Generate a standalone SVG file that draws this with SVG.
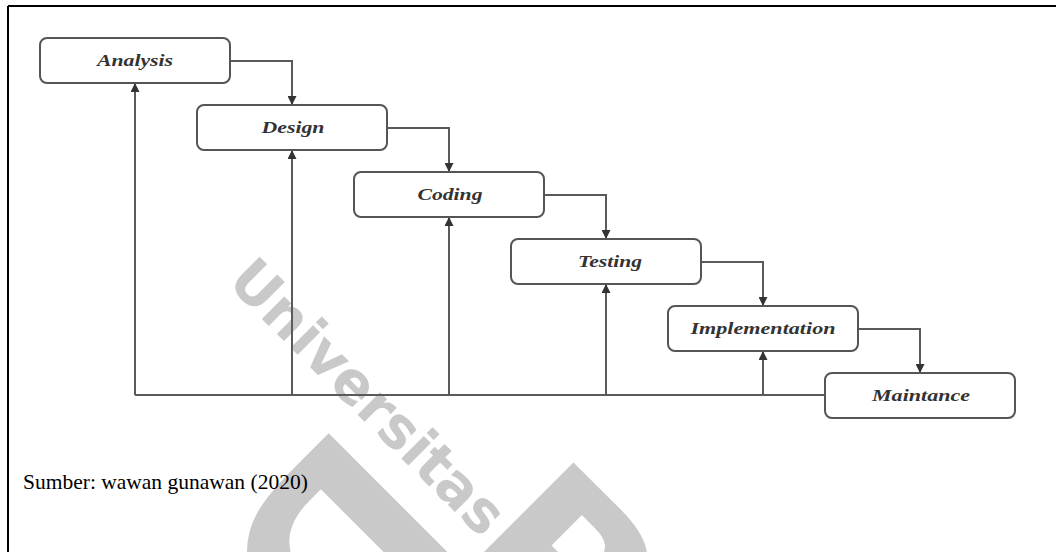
<svg xmlns="http://www.w3.org/2000/svg" width="1056" height="552" viewBox="0 0 1056 552">
  <defs>
    <marker id="arr" viewBox="0 0 10 10" refX="10" refY="5" markerWidth="9" markerHeight="9" markerUnits="userSpaceOnUse" orient="auto">
      <path d="M0,0 L10,5 L0,10 Z" fill="#333"/>
    </marker>
    <style>
      .box { fill: #ffffff; stroke: #555555; stroke-width: 2; }
      .lbl { font-family: "Liberation Serif", serif; font-style: italic; font-weight: bold; font-size: 16px; fill: #333333; text-anchor: middle; }
      .con { fill: none; stroke: #5a5a5a; stroke-width: 2; }
      .wm { fill: #c9c9c9; font-family: "DejaVu Sans", sans-serif; font-weight: bold; }
    </style>
  </defs>
  <rect width="1056" height="552" fill="#ffffff"/>

  <!-- watermark -->
  <g id="watermark">
    <text class="wm" transform="translate(226,283) rotate(45)" font-size="58" textLength="362" lengthAdjust="spacingAndGlyphs">Universitas</text>
    <text class="wm" transform="translate(330,432) rotate(135)" font-size="240" x="-20">D</text>
    <text class="wm" transform="translate(440,566) rotate(45)" font-size="230" x="0">R</text>
  </g>

  <!-- frame -->
  <g id="frame" stroke="#000" stroke-width="2" fill="none">
    <line x1="8" y1="6" x2="1056" y2="6"/>
    <line x1="8" y1="6" x2="8" y2="552"/>
  </g>

  <g id="connectors">
    <path class="con" d="M230,61 H292 V105" marker-end="url(#arr)"/>
    <path class="con" d="M387,128 H449 V172" marker-end="url(#arr)"/>
    <path class="con" d="M544,195 H606 V239" marker-end="url(#arr)"/>
    <path class="con" d="M701,262 H763 V306" marker-end="url(#arr)"/>
    <path class="con" d="M858,329 H920 V373" marker-end="url(#arr)"/>
    <path class="con" d="M135,395 H825"/>
    <path class="con" d="M135,395 V83" marker-end="url(#arr)"/>
    <path class="con" d="M292,395 V150" marker-end="url(#arr)"/>
    <path class="con" d="M449,395 V217" marker-end="url(#arr)"/>
    <path class="con" d="M606,395 V284" marker-end="url(#arr)"/>
    <path class="con" d="M763,395 V351" marker-end="url(#arr)"/>
  </g>

  <g id="analysis">
    <rect class="box" x="40" y="38" width="190" height="45" rx="7"/>
    <text class="lbl" x="135" y="66" textLength="76" lengthAdjust="spacingAndGlyphs">Analysis</text>
  </g>
  <g id="design">
    <rect class="box" x="197" y="105" width="190" height="45" rx="7"/>
    <text class="lbl" x="293" y="133" textLength="63" lengthAdjust="spacingAndGlyphs">Design</text>
  </g>
  <g id="coding">
    <rect class="box" x="354" y="172" width="190" height="45" rx="7"/>
    <text class="lbl" x="450" y="200" textLength="65" lengthAdjust="spacingAndGlyphs">Coding</text>
  </g>
  <g id="testing">
    <rect class="box" x="511" y="239" width="190" height="45" rx="7"/>
    <text class="lbl" x="610" y="267" textLength="64" lengthAdjust="spacingAndGlyphs">Testing</text>
  </g>
  <g id="implementation">
    <rect class="box" x="668" y="306" width="190" height="45" rx="7"/>
    <text class="lbl" x="763" y="334" textLength="145" lengthAdjust="spacingAndGlyphs">Implementation</text>
  </g>
  <g id="maintance">
    <rect class="box" x="825" y="373" width="190" height="45" rx="7"/>
    <text class="lbl" x="921" y="401" textLength="98" lengthAdjust="spacingAndGlyphs">Maintance</text>
  </g>

  <text x="23" y="489" font-family="Liberation Serif, serif" font-size="21.5" fill="#000">Sumber: wawan gunawan (2020)</text>
</svg>
